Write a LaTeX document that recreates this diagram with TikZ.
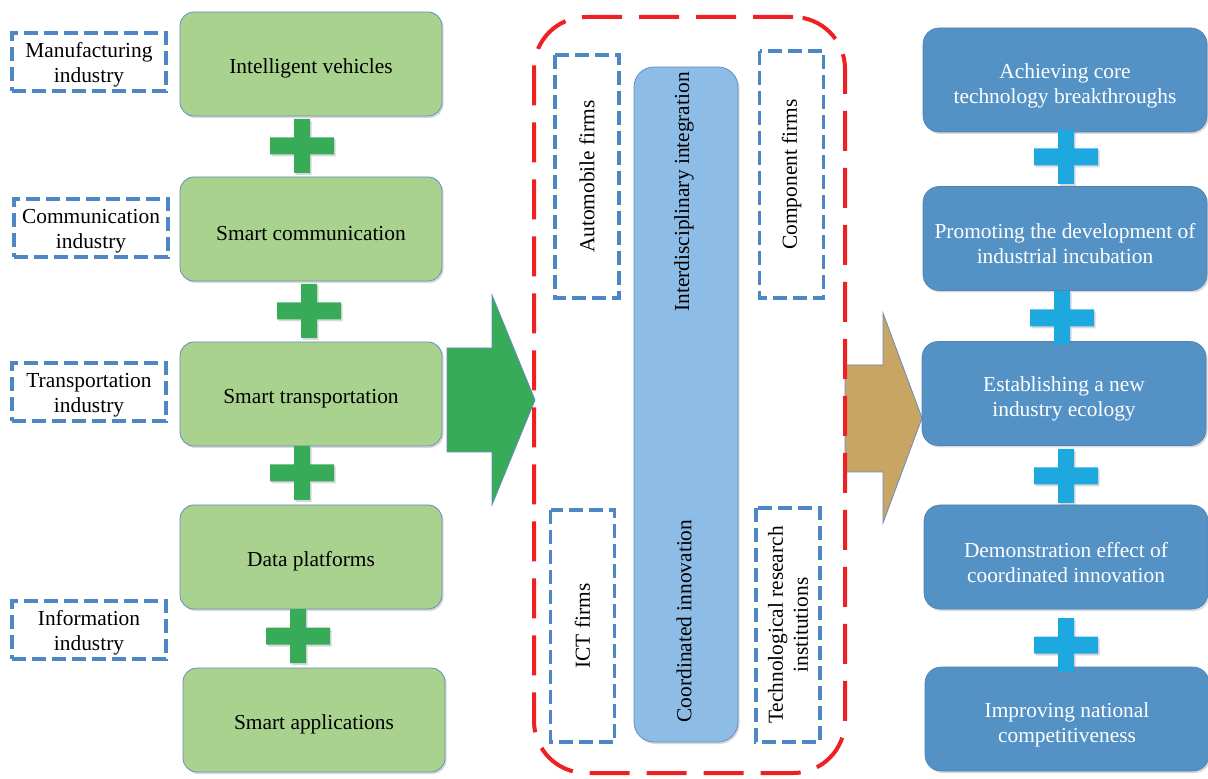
\documentclass[tikz,border=0pt]{standalone}
\usepackage{fontspec}
\setmainfont{Liberation Serif}
\usepackage{xcolor}
\definecolor{leafgreen}{RGB}{168,210,141}
\definecolor{boxline}{RGB}{104,140,190}
\definecolor{plusgreen}{RGB}{56,171,88}
\definecolor{dashblue}{RGB}{79,134,198}
\definecolor{alarmred}{RGB}{237,32,36}
\definecolor{paleblue}{RGB}{141,188,230}
\definecolor{steelblue}{RGB}{84,146,198}
\definecolor{skyblue}{RGB}{30,168,224}
\definecolor{ochre}{RGB}{200,165,98}
\usepackage{tikz}
\usetikzlibrary{positioning}
\usetikzlibrary{shadows}
\usetikzlibrary{arrows.meta}

\tikzset{
  txt/.style={font=\fontsize{10.7pt}{12.5pt}\selectfont,align=center,inner sep=1pt},
  shade/.style={drop shadow={shadow xshift=0.8pt,shadow yshift=-1pt,opacity=0.3}},
  sector/.style={txt,text height=12pt,draw=boxline,line width=0.4pt,fill=leafgreen,rounded corners=7pt,
    minimum width=131pt,minimum height=52pt,shade},
  outcome/.style={txt,text height=25.5pt,text=white,draw=steelblue!90!black,line width=0.3pt,fill=steelblue,
    rounded corners=8pt,minimum width=142pt,minimum height=52pt,shade},
  industry/.style={txt,text height=23.3pt,draw=dashblue,line width=1.6pt,dash pattern=on 7pt off 3pt,
    minimum width=77pt,minimum height=29pt},
  actor/.style={txt,draw=dashblue,line width=1.6pt,dash pattern=on 7pt off 3pt,
    rotate=90,minimum height=32pt},
  pics/crossmark/.style={code={
    \fill[#1,shade] (-32,-8.5) -- (-8,-8.5) -- (-8,-27) -- (8,-27) -- (8,-8.5) -- (32,-8.5)
      -- (32,8.5) -- (8,8.5) -- (8,27) -- (-8,27) -- (-8,8.5) -- (-32,8.5) -- cycle;
  }}
}

\begin{document}
\begin{tikzpicture}[x=0.5pt,y=-0.5pt]
\useasboundingbox (0,0) rectangle (1208,779);

% left column: sectors
\node[sector] (vehicle) at (311,64) {Intelligent vehicles};
\node[sector] (comm) at (311,229) {Smart communication};
\node[sector] (transport) at (311,394) {Smart transportation};
\node[sector] (data) at (311,557) {Data platforms};
\node[sector] (apps) at (314,720) {Smart applications};

\pic at (302,146) {crossmark=plusgreen};
\pic at (309,311) {crossmark=plusgreen};
\pic at (302,473) {crossmark=plusgreen};
\pic at (298,636) {crossmark=plusgreen};

\node[industry] (manuf) at (89,62) {Manufacturing\\industry};
\node[industry] (commind) at (91,228) {Communication\\industry};
\node[industry] (transind) at (89,392) {Transportation\\industry};
\node[industry] (infoind) at (89,630) {Information\\industry};

% big arrows
\fill[plusgreen,draw=boxline,line width=0.4pt] (447,348) -- (492,348) -- (492,295) -- (535,400)
  -- (492,505) -- (492,452) -- (447,452) -- cycle;
\fill[ochre,draw=boxline,line width=0.4pt] (845,365) -- (883,365) -- (883,313) -- (922,418)
  -- (883,523) -- (883,472) -- (845,472) -- cycle;

% middle: cooperation
\node[draw=boxline,line width=0.4pt,fill=paleblue,rounded corners=10pt,
  minimum width=52pt,minimum height=337.5pt,shade] (core) at (686,404.5) {};
\node[txt,rotate=90] (integ) at (684,192) {Interdisciplinary integration};
\node[txt,rotate=90] (coord) at (684,621) {Coordinated innovation};

\node[actor,minimum width=121.5pt] (auto) at (587,176.5) {Automobile firms};
\node[actor,minimum width=123.5pt] (parts) at (791.5,174.5) {Component firms};
\node[actor,minimum width=116pt] (ict) at (582.5,626) {ICT firms};
\node[actor,minimum width=117pt] (research) at (788,625) {Technological research\\institutions};

\node[draw=alarmred,line width=2pt,dash pattern=on 20pt off 8.5pt,rounded corners=26pt,
  minimum width=155.5pt,minimum height=378pt] (team) at (689.5,395) {};

% right column: outcomes
\node[outcome] (core tech) at (1065,80) {Achieving core\\technology breakthroughs};
\node[outcome] (incub) at (1065,238.5) {Promoting the development of\\industrial incubation};
\node[outcome] (ecology) at (1064,393.5) {Establishing a new\\industry ecology};
\node[outcome] (demo) at (1066,557) {Demonstration effect of\\coordinated innovation};
\node[outcome] (nation) at (1067,719) {Improving national\\competitiveness};

\pic at (1066,157) {crossmark=skyblue};
\pic at (1062,318) {crossmark=skyblue};
\pic at (1066,476) {crossmark=skyblue};
\pic at (1066,645) {crossmark=skyblue};
\end{tikzpicture}
\end{document}
